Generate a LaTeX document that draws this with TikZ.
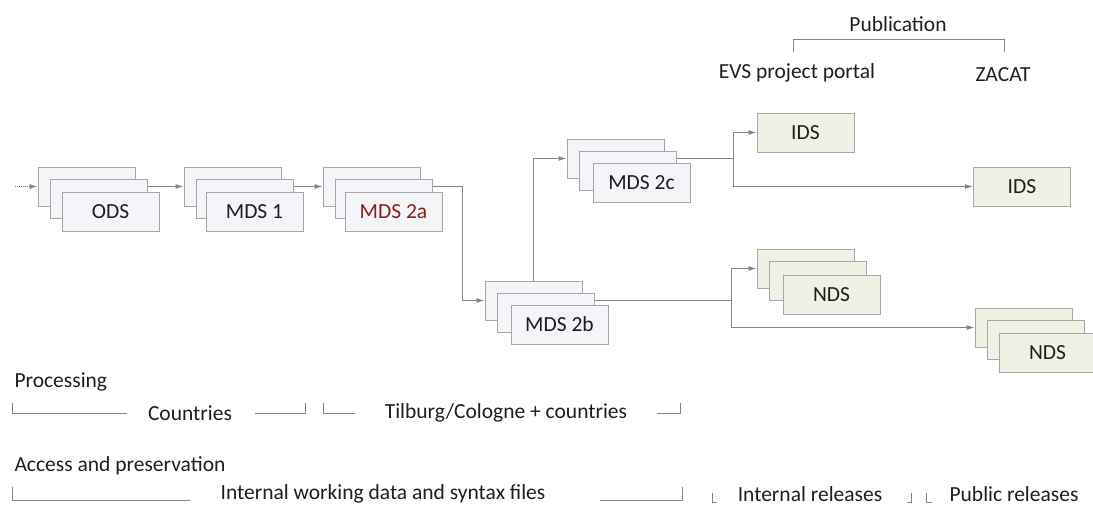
\documentclass[tikz,border=0pt]{standalone}
\usepackage{fontspec}
\setmainfont{Carlito}
\usepackage{tikz}
\usetikzlibrary{arrows.meta,calc}

\definecolor{boxedge}{HTML}{A6A6A6}
\definecolor{linegray}{HTML}{858585}
\definecolor{bluefill}{HTML}{F4F5F9}
\definecolor{greenfill}{HTML}{EEF2E4}
\definecolor{darkred}{HTML}{8E1B1B}
\definecolor{textgray}{HTML}{1E1E1E}

\begin{document}
\begin{tikzpicture}[x=1pt, y=-1pt, font=\fontsize{21.5}{25}\selectfont, text=textgray,
    dbox/.style={draw=boxedge, line width=1pt, minimum width=97pt, minimum height=39pt, inner sep=0pt, fill=bluefill},
    gbox/.style={dbox, fill=greenfill},
    flow/.style={draw=linegray, line width=1pt, -{Latex[length=8pt,width=5pt]}},
    bracket/.style={draw=linegray, line width=0.8pt}]
      \useasboundingbox (0,0) rectangle (1093,506);
      % stacked data sets, back layers first
      \foreach \s/\cx/\cy/\f in {ods/86.5/186.5/bluefill, mdsone/232.5/186.5/bluefill,
          mdsa/371.5/186.5/bluefill, mdsb/533.5/300.5/bluefill, mdsc/615.5/158.5/bluefill,
          ndsa/805.5/268.5/greenfill, ndsb/1023.5/327.5/greenfill}
        \foreach \i/\dx/\dy in {1/0/0, 2/12/12}
          \node[dbox, fill=\f] (\s\i) at (\cx+\dx,\cy+\dy) {};
      \node[dbox] (ods3) at ($(ods1)+(24,25)$) {ODS};
      \node[dbox] (mdsone3) at ($(mdsone1)+(22,25)$) {MDS 1};
      \node[dbox, text=darkred] (mdsa3) at ($(mdsa1)+(22,25)$) {MDS 2a};
      \node[dbox] (mdsb3) at ($(mdsb1)+(26,24)$) {MDS 2b};
      \node[dbox] (mdsc3) at ($(mdsc1)+(26,24)$) {MDS 2c};
      \node[gbox] (ndsa3) at ($(ndsa1)+(26,26)$) {NDS};
      \node[gbox] (ndsb3) at ($(ndsb1)+(24,25)$) {NDS};
      \node[gbox] (ids1) at (805.5,132.5) {IDS};
      \node[gbox] (ids2) at (1022,186.5) {IDS};

      % connectors
      \coordinate (start) at (15,186.5);
      \coordinate (jb) at (462,300.5);
      \coordinate (jc) at (733,158.5);
      \coordinate (jn) at (731,300.5);
      \draw[flow, densely dotted, line width=0.7pt] (start) -- (ods1.west);
      \draw[flow] (ods2.east |- ods1) -- (mdsone1.west);
      \draw[flow] (mdsone2.east |- mdsone1) -- (mdsa1.west);
      \draw[flow] (mdsa2.east |- mdsa1) -| (jb) -- (mdsb1.west);
      \draw[flow] (mdsb1.north) |- (mdsc1.west);
      \draw[bracket, line width=1pt] (mdsc2.east |- mdsc1) -- (jc);
      \draw[flow] (jc) |- (ids1.west);
      \draw[flow] (jc) |- (ids2.west);
      \draw[bracket, line width=1pt] (mdsb2.east |- mdsb1) -- (jn);
      \draw[flow] (jn) |- (ndsa1.west);
      \draw[flow] (jn) |- (ndsb1.west);

      % publication
      \node (publication) at (898,24) {Publication};
      \node (portal) at (797,73) {EVS project portal};
      \node (zacat) at (1003,75) {ZACAT};
      \draw[bracket] (793,52) |- (1004,39) -- (1004,52);

      % processing
      \node[anchor=west] (processing) at (11,382) {Processing};
      \node (countries) at (190,413) {Countries};
      \draw[bracket] (12,403) |- (127,413);
      \draw[bracket] (255,413) -| (305,403);
      \node (tilburg) at (506,413) {Tilburg/Cologne + countries};
      \draw[bracket] (323,403) |- (355,413);
      \draw[bracket] (657,413) -| (680,403);

      % access and preservation
      \node[anchor=west] (access) at (11,466) {Access and preservation};
      \node (internal) at (383,494) {Internal working data and syntax files};
      \draw[bracket] (12,487) |- (190,500);
      \draw[bracket] (600,500) -| (682,487);
      \draw[bracket] (712,493) |- (717,502);
      \node (intrel) at (810,494) {Internal releases};
      \draw[bracket] (907,502) -| (911,493);
      \draw[bracket] (926,493) |- (932,502);
      \node (pubrel) at (1014,494) {Public releases};
    \end{tikzpicture}
\end{document}
